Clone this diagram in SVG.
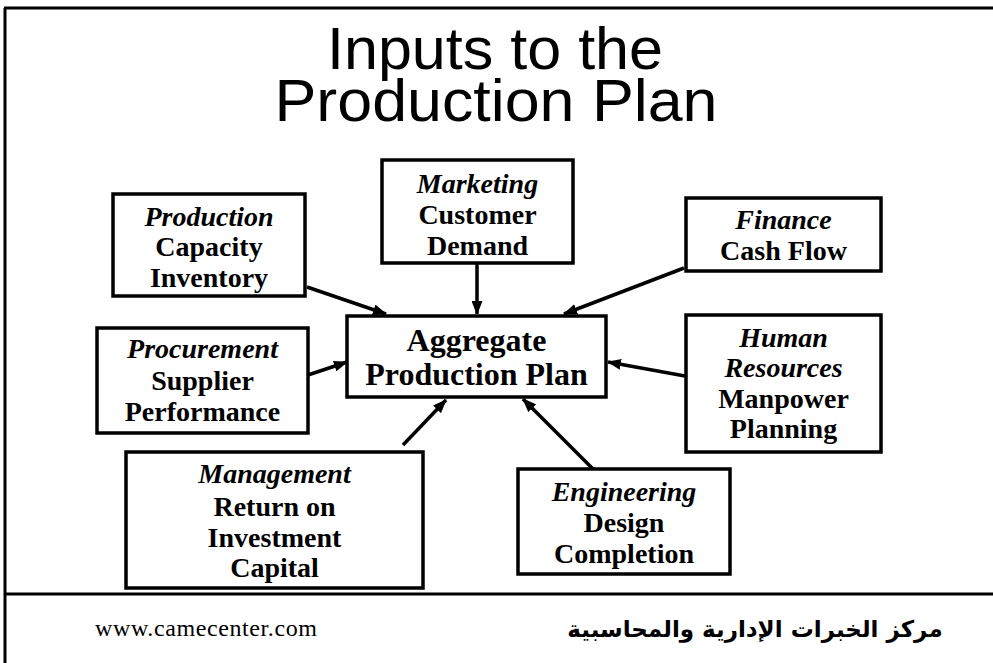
<svg xmlns="http://www.w3.org/2000/svg" width="993" height="663" viewBox="0 0 993 663">
  <style>
    .frame { stroke: #000; stroke-width: 3; fill: none; }
    .box { fill: #fff; stroke: #000; stroke-width: 3.5; }
    .title { font-family: "Liberation Sans", Arial, sans-serif; font-size: 60px; fill: #000; text-anchor: middle; }
    .lbl { font-family: "Liberation Serif", "Times New Roman", serif; font-size: 28px; font-weight: bold; fill: #000; text-anchor: middle; }
    .dept { font-style: italic; }
    .main { font-size: 32px; }
    .link { stroke: #000; stroke-width: 3.5; fill: none; marker-end: url(#head); }
    .url { font-family: "Liberation Serif", "Times New Roman", serif; font-size: 24px; fill: #000; }
    .ar { font-family: "DejaVu Sans", "Noto Sans", sans-serif; font-size: 23px; font-weight: bold; fill: #000; text-anchor: middle; }
  </style>
  <defs>
    <marker id="head" markerUnits="userSpaceOnUse" markerWidth="14" markerHeight="11" refX="13" refY="5.5" orient="auto">
      <path d="M0,0 L14,5.5 L0,11 z" fill="#000"/>
    </marker>
  </defs>

  <rect width="993" height="663" fill="#fff"/>

  <!-- page frame -->
  <g id="frame">
    <line class="frame" x1="4" y1="8" x2="993" y2="8"/>
    <line class="frame" x1="5" y1="8" x2="5" y2="663"/>
    <line class="frame" x1="4" y1="594" x2="993" y2="594"/>
  </g>

  <g id="title">
    <text class="title" x="495" y="69" textLength="336" lengthAdjust="spacingAndGlyphs">Inputs to the</text>
    <text class="title" x="496" y="121" textLength="443" lengthAdjust="spacingAndGlyphs">Production Plan</text>
  </g>

  <!-- connectors -->
  <g id="connectors">
    <line class="link" x1="307" y1="287" x2="386" y2="314"/>
    <line class="link" x1="477" y1="263" x2="477" y2="314"/>
    <line class="link" x1="684" y1="268" x2="564" y2="314"/>
    <line class="link" x1="685" y1="376" x2="608" y2="362"/>
    <line class="link" x1="308" y1="375" x2="347" y2="362"/>
    <line class="link" x1="403" y1="445" x2="446" y2="400"/>
    <line class="link" x1="595" y1="471" x2="523" y2="399"/>
  </g>

  <g id="aggregate">
    <rect class="box" x="347" y="316" width="259" height="81"/>
    <text class="lbl main" x="476.5" y="351">Aggregate</text>
    <text class="lbl main" x="476.5" y="385">Production Plan</text>
  </g>

  <g id="production">
    <rect class="box" x="113" y="194" width="192" height="102"/>
    <text class="lbl dept" x="209" y="226">Production</text>
    <text class="lbl" x="209" y="256">Capacity</text>
    <text class="lbl" x="209" y="287">Inventory</text>
  </g>

  <g id="marketing">
    <rect class="box" x="382" y="160" width="191" height="103"/>
    <text class="lbl dept" x="477.5" y="193">Marketing</text>
    <text class="lbl" x="477.5" y="224">Customer</text>
    <text class="lbl" x="477.5" y="255">Demand</text>
  </g>

  <g id="finance">
    <rect class="box" x="686" y="198" width="195" height="73"/>
    <text class="lbl dept" x="783.5" y="229">Finance</text>
    <text class="lbl" x="783.5" y="260">Cash Flow</text>
  </g>

  <g id="human-resources">
    <rect class="box" x="686" y="315" width="195" height="137"/>
    <text class="lbl dept" x="783.5" y="347">Human</text>
    <text class="lbl dept" x="783.5" y="377">Resources</text>
    <text class="lbl" x="783.5" y="408">Manpower</text>
    <text class="lbl" x="783.5" y="438">Planning</text>
  </g>

  <g id="procurement">
    <rect class="box" x="97" y="328" width="211" height="105"/>
    <text class="lbl dept" x="202.5" y="358">Procurement</text>
    <text class="lbl" x="202.5" y="390">Supplier</text>
    <text class="lbl" x="202.5" y="421">Performance</text>
  </g>

  <g id="management">
    <rect class="box" x="126" y="452" width="297" height="136"/>
    <text class="lbl dept" x="274.5" y="483">Management</text>
    <text class="lbl" x="274.5" y="516">Return on</text>
    <text class="lbl" x="274.5" y="547">Investment</text>
    <text class="lbl" x="274.5" y="577">Capital</text>
  </g>

  <g id="engineering">
    <rect class="box" x="518" y="469" width="212" height="105"/>
    <text class="lbl dept" x="624" y="501">Engineering</text>
    <text class="lbl" x="624" y="532">Design</text>
    <text class="lbl" x="624" y="563">Completion</text>
  </g>

  <g id="footer">
    <text class="url" x="95" y="636" textLength="222">www.camecenter.com</text>
    <text class="ar" x="755" y="637">مركز الخبرات الإدارية والمحاسبية</text>
  </g>
</svg>
